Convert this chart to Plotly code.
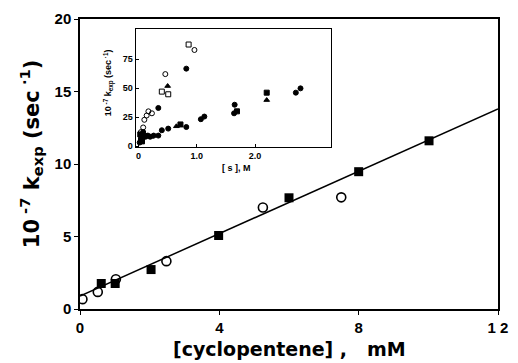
import plotly.graph_objects as go

# Main plot data
circ_x = [0.07, 0.51, 1.03, 2.48, 5.25, 7.5]
circ_y = [0.68, 1.18, 2.05, 3.3, 7.0, 7.7]
sq_x = [0.61, 1.01, 2.04, 3.98, 6.0, 8.0, 10.02]
sq_y = [1.76, 1.76, 2.72, 5.07, 7.67, 9.47, 11.6]
fit_x = [0, 12]
fit_y = [0.9, 13.8]

# Inset data
ins_fc_x = [0.02, 0.04, 0.06, 0.08, 0.12, 0.16, 0.2, 0.26, 0.34, 0.40, 0.51, 0.82, 1.07, 1.13, 1.64, 1.65, 2.70, 2.78, 0.34, 0.82]
ins_fc_y = [3, 6, 9, 12, 8, 9, 8, 9, 9, 13.6, 15, 16.4, 23.1, 25.4, 28.2, 35.6, 46, 49.7, 32.8, 66.7]
ins_ft_x = [0.5, 0.65, 2.2, 0.1, 0.22]
ins_ft_y = [51.7, 17, 39.6, 10, 8]
ins_os_x = [0.86, 0.40, 0.51, 0.05]
ins_os_y = [87.5, 46.9, 44.6, 7]
ins_oc_x = [0.96, 0.46, 0.10, 0.14, 0.17, 0.23, 0.04, 0.08]
ins_oc_y = [82.8, 62, 22.6, 26.3, 29.9, 28.2, 12, 16]
ins_fs_x = [0.72, 2.2, 1.69, 0.06, 0.03]
ins_fs_y = [18.6, 46, 29.9, 4, 10]

FONT = "Liberation Sans, Arial, sans-serif"
WIDE = "DejaVu Sans, sans-serif"

fig = go.Figure()
fig.add_trace(go.Scatter(x=fit_x, y=fit_y, mode="lines", line=dict(color="black", width=1.5), showlegend=False))
fig.add_trace(go.Scatter(x=circ_x, y=circ_y, mode="markers",
                         marker=dict(symbol="circle-open", size=9, color="black", line=dict(width=1.6)), showlegend=False))
fig.add_trace(go.Scatter(x=sq_x, y=sq_y, mode="markers",
                         marker=dict(symbol="square", size=9, color="black"), showlegend=False))

for xs, ys, sym, sz in [
    (ins_fc_x, ins_fc_y, "circle", 5),
    (ins_ft_x, ins_ft_y, "triangle-up", 5),
    (ins_os_x, ins_os_y, "square-open", 5),
    (ins_oc_x, ins_oc_y, "circle-open", 5),
    (ins_fs_x, ins_fs_y, "square", 5),
]:
    fig.add_trace(go.Scatter(x=xs, y=ys, mode="markers", xaxis="x2", yaxis="y2",
                             marker=dict(symbol=sym, size=sz, color="black", line=dict(width=1, color="black")),
                             showlegend=False))

fig.update_layout(
    width=518, height=363,
    margin=dict(l=80, r=10, t=17, b=54),
    paper_bgcolor="white", plot_bgcolor="white",
    font=dict(family=FONT, color="black"),
    xaxis=dict(range=[0, 12], tickvals=[0, 4, 8, 12], ticktext=["0", "4", "8", "1 2"],
               showline=True, linecolor="black", linewidth=1.5, mirror=True,
               ticks="outside", ticklen=4, tickcolor="black", showgrid=False, zeroline=False,
               tickfont=dict(size=15, family=FONT, weight="bold")),
    yaxis=dict(range=[0, 20], tickvals=[0, 5, 10, 15, 20],
               showline=True, linecolor="black", linewidth=1.5, mirror=True,
               ticks="outside", ticklen=4, tickcolor="black", showgrid=False, zeroline=False,
               tickfont=dict(size=15, family=FONT, weight="bold")),
    xaxis2=dict(domain=[0.133, 0.600], anchor="y2", range=[-0.05, 3.3],
                tickvals=[0, 1, 2], ticktext=["0", "1.0", "2.0"],
                showline=True, linecolor="black", linewidth=1, mirror=True,
                ticks="inside", ticklen=3, tickcolor="black", showgrid=False, zeroline=False,
                tickfont=dict(size=9, family=FONT, weight="bold")),
    yaxis2=dict(domain=[0.558, 0.966], anchor="x2", range=[-1, 101],
                tickvals=[0, 25, 50, 75],
                showline=True, linecolor="black", linewidth=1, mirror=True,
                ticks="inside", ticklen=3, tickcolor="black", showgrid=False, zeroline=False,
                tickfont=dict(size=9, family=FONT, weight="bold")),
    annotations=[
        dict(text="10<sup> -7</sup> k<sub>exp</sub> (sec<sup> ·1</sup>)", textangle=-90,
             xref="paper", yref="paper", x=-0.117, y=0.534, showarrow=False,
             xanchor="center", yanchor="middle",
             font=dict(size=21, family=WIDE, weight="bold")),
        dict(text="[cyclopentene] ,\u00a0\u00a0 mM", xref="paper", yref="paper", x=0.5, y=-0.137,
             showarrow=False, xanchor="center", yanchor="middle",
             font=dict(size=19, family=WIDE, weight="bold")),
        dict(text="10<sup> -7</sup> k<sub>exp</sub> (sec<sup> ·1</sup>)", textangle=-90,
             xref="paper", yref="paper", x=0.068, y=0.78, showarrow=False,
             xanchor="center", yanchor="middle",
             font=dict(size=9, family=FONT, weight="bold")),
        dict(text="[ s ], M", xref="paper", yref="paper", x=0.374, y=0.486,
             showarrow=False, xanchor="center", yanchor="middle",
             font=dict(size=9, family=FONT, weight="bold")),
    ],
)

fig.write_html("out.html", config={"displayModeBar": False},
               post_script="document.body.style.margin='0';document.body.style.overflow='hidden';")
